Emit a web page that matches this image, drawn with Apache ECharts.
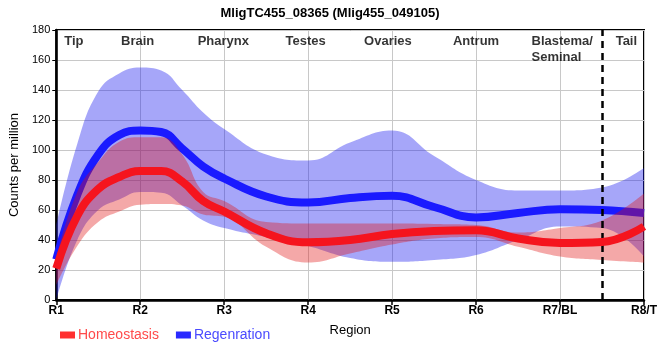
<!DOCTYPE html>
<html>
<head>
<meta charset="utf-8">
<script src="https://cdn.jsdelivr.net/npm/echarts@6/dist/echarts.min.js"></script>
<style>html,body{margin:0;padding:0;background:#fff}#c{width:660px;height:360px}</style>
</head>
<body>
<div id="c"></div>
<script>
// sample positions along the region axis (1 = R1 ... 8 = R8/T)
var xs        = [1,  1.25, 1.5, 1.75,  2,    2.25,  2.5, 2.75, 3,    3.5,  4,    4.5, 5,    5.5,  6,    6.5,  7,    7.5,  8];
var regenMid  = [27, 70,   97,  110,   113,  112,   101, 89,   81,   69,   65,   68,  69.5, 62,   55,   58,   60.5, 60,   58];
var regenHigh = [50, 104,  139, 151,   155,  153,   140, 125,  114,  97,   93,   105, 113,  96,   80,   73,   73,   75,   88];
var regenLow  = [0,  40,   60,  67,    72,   71.5,  63,  53,   48,   42,   36,   28,  25.5, 26.7, 30,   40,   49,   48,   29];
var homeoMid  = [21, 56,   74,  82,    86,   86,    79,  66,   59,   44.5, 38.5, 40,  44,   46,   46.5, 41,   38,   38.7, 49];
var homeoHigh = [28, 72,   92,  105.5, 108.5,108.5, 97,  72,   66,   52,   51,   51,  51,   50.7, 50,   45,   48,   53,   71];
var homeoLow  = [10, 36,   52,  59,    63.5, 64,    63,  57,   55.5, 35.5, 25,   31,  37,   41,   42,   35.5, 29,   26.7, 25];

var tickLabels  = ['R1','R2','R3','R4','R5','R6','R7/BL','R8/T'];
var regionNames = ['Tip','Brain','Pharynx','Testes','Ovaries','Antrum','Blastema/\nSeminal','Tail'];
var regionPos   = [1.21, 1.97, 2.99, 3.97, 4.95, 6.0, 6.66, 7.79];
var regionAlign = ['center','center','center','center','center','center','left','center'];
var tailBoundary = 7.5;

// data rows are [value, position]; encode maps column 1 to x and column 0 to y
// (so that stacking applies to the value column)
function pairs(vals){ return xs.map(function(x,i){ return [vals[i], x]; }); }
function diffs(hi, lo){ return xs.map(function(x,i){ return [hi[i]-lo[i], x]; }); }
var ENC = {x: 1, y: 0};
var SM = 0.45;

var FONT = "'Liberation Sans', Arial, sans-serif";
var BLUE_BAND = 'rgba(20,20,240,0.38)';
var RED_BAND = 'rgba(225,15,15,0.36)';

var chart = echarts.init(document.getElementById('c'), null, {renderer:'canvas'});
chart.setOption({
  animation: false,
  title: {
    text: 'MligTC455_08365 (Mlig455_049105)',
    left: 'center', top: 2,
    textStyle: {fontFamily: FONT, fontSize: 13, fontWeight: 'bold', color: '#000'}
  },
  legend: {
    left: 55, top: 323, itemWidth: 15, itemHeight: 7, itemGap: 17, icon: 'rect',
    textStyle: {fontFamily: FONT, fontSize: 14, padding: [0,0,0,-2]},
    data: [
      {name: 'Homeostasis', itemStyle: {color: '#ff3030'}, textStyle: {color: '#ff4a4a'}},
      {name: 'Regenration', itemStyle: {color: '#2a2aff'}, textStyle: {color: '#4a4aff'}}
    ]
  },
  grid: {left: 50, right: 9, top: 30, bottom: 60, show: true, borderColor: '#000', borderWidth: 2},
  xAxis: {
    type: 'value', min: 1, max: 8, interval: 1,
    name: 'Region', nameLocation: 'middle', nameGap: 24,
    nameTextStyle: {fontFamily: FONT, fontSize: 13, color: '#000'},
    axisLine: {show: true, lineStyle: {color: '#000', width: 2.5}},
    axisTick: {show: true, length: 5, lineStyle: {color: '#000', width: 1.5}},
    axisLabel: {
      fontFamily: FONT, fontSize: 12, fontWeight: 'bold', color: '#000', margin: 5,
      showMinLabel: true, showMaxLabel: true,
      formatter: function(v){ return tickLabels[Math.round(v)-1] || ''; }
    },
    splitLine: {show: true, lineStyle: {color: '#c8c8c8', width: 1}}
  },
  yAxis: {
    type: 'value', min: 0, max: 180, interval: 20,
    name: 'Counts per million', nameLocation: 'middle', nameGap: 30,
    nameTextStyle: {fontFamily: FONT, fontSize: 13, color: '#000'},
    axisLine: {show: true, lineStyle: {color: '#000', width: 2.5}},
    axisTick: {show: true, length: 4, lineStyle: {color: '#000', width: 1}},
    axisLabel: {fontFamily: FONT, fontSize: 11, color: '#000', margin: 6},
    splitLine: {show: true, lineStyle: {color: '#c8c8c8', width: 1}}
  },
  series: [
    {type: 'line', name: 'regenLow', stack: 'regen', encode: ENC, data: pairs(regenLow), smooth: SM,
     symbol: 'none', lineStyle: {opacity: 0}, silent: true, z: 2},
    {type: 'line', name: 'regenBand', stack: 'regen', encode: ENC, data: diffs(regenHigh, regenLow), smooth: SM,
     symbol: 'none', lineStyle: {opacity: 0}, areaStyle: {color: BLUE_BAND, opacity: 1}, silent: true, z: 2},
    {type: 'line', name: 'Regenration', encode: ENC, data: pairs(regenMid), smooth: SM, symbol: 'none',
     color: '#1a1aff', lineStyle: {color: '#1a1aff', width: 8}, z: 3},
    {type: 'line', name: 'homeoLow', stack: 'homeo', encode: ENC, data: pairs(homeoLow), smooth: SM,
     symbol: 'none', lineStyle: {opacity: 0}, silent: true, z: 4},
    {type: 'line', name: 'homeoBand', stack: 'homeo', encode: ENC, data: diffs(homeoHigh, homeoLow), smooth: SM,
     symbol: 'none', lineStyle: {opacity: 0}, areaStyle: {color: RED_BAND, opacity: 1}, silent: true, z: 4},
    {type: 'line', name: 'Homeostasis', encode: ENC, data: pairs(homeoMid), smooth: SM, symbol: 'none',
     color: '#f5141e', lineStyle: {color: '#f5141e', width: 8}, z: 5,
     markLine: {silent: true, symbol: 'none', label: {show: false},
       lineStyle: {color: '#000', type: [7, 5], width: 2.5},
       data: [{xAxis: tailBoundary}]}
    },
    {type: 'scatter', name: 'regions', symbolSize: 0, silent: true, z: 6,
     data: regionNames.map(function(n,i){
       return {value: [regionPos[i], 177.5],
               label: {formatter: n, align: regionAlign[i]}};
     }),
     label: {show: true, position: 'inside', verticalAlign: 'top', lineHeight: 16,
       fontFamily: FONT, fontSize: 13, fontWeight: 'bold', color: '#000'}
    }
  ]
});
</script>
</body>
</html>
